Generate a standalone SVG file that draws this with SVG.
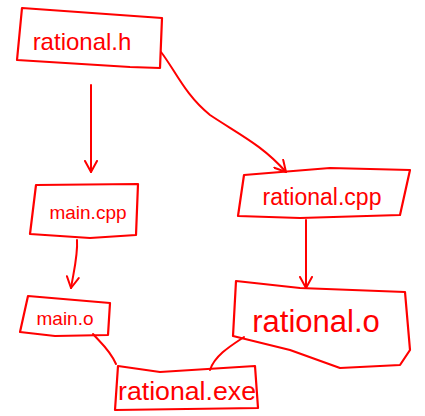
<svg xmlns="http://www.w3.org/2000/svg" width="425" height="416" viewBox="0 0 425 416">
<defs>
<style>
.box{fill:none;stroke:#ff0000;stroke-width:2.2;stroke-linejoin:round;stroke-linecap:round}
.ln{fill:none;stroke:#ff0000;stroke-width:2;stroke-linecap:round;stroke-linejoin:round}
.t{fill:#ff0000;font-family:"Liberation Sans",Arial,sans-serif;text-anchor:middle}
</style>
<marker id="ah" viewBox="0 0 14 14" refX="12" refY="7" markerWidth="14" markerHeight="14" markerUnits="userSpaceOnUse" orient="auto">
<path d="M1,1 L12,7 L1,13" fill="none" stroke="#ff0000" stroke-width="2" stroke-linecap="round" stroke-linejoin="round"/>
</marker>
</defs>
<rect width="425" height="416" fill="#ffffff"/>
<g id="connectors">
<path class="ln" d="M91,85 L91,172" marker-end="url(#ah)"/>
<path class="ln" d="M161,52 C175,70 185,95 210,115 C240,135 262,145 286,172" marker-end="url(#ah)"/>
<path class="ln" d="M77,240 C78,255 74,270 71,288" marker-end="url(#ah)"/>
<path class="ln" d="M306,220 L306,288" marker-end="url(#ah)"/>
<path class="ln" d="M93,334 C100,342 110,350 116,364"/>
<path class="ln" d="M244,337 C232,345 215,355 210,370"/>
</g>
<g id="n-rational-h">
<polygon class="box" points="22,8 162,18 160,68 130,67 17,60"/>
<text class="t" x="82" y="50" font-size="24">rational.h</text>
</g>
<g id="n-main-cpp">
<polygon class="box" points="36,185 138,184 136,235 90,238 30,234"/>
<text class="t" x="88" y="219" font-size="19">main.cpp</text>
</g>
<g id="n-main-o">
<polygon class="box" points="28,296 110,303 108,335 55,336 20,332"/>
<text class="t" x="65" y="325" font-size="19">main.o</text>
</g>
<g id="n-rational-cpp">
<polygon class="box" points="244,175 330,168 410,170 400,215 300,218 238,216"/>
<text class="t" x="322" y="205" font-size="23">rational.cpp</text>
</g>
<g id="n-rational-o">
<polygon class="box" points="236,281 300,288 405,292 410,350 400,365 340,368 290,350 233,336"/>
<text class="t" x="316" y="332" font-size="31">rational.o</text>
</g>
<g id="n-rational-exe">
<polygon class="box" points="118,366 160,372 255,366 258,408 115,410"/>
<text class="t" x="187" y="400" font-size="25" textLength="138" lengthAdjust="spacingAndGlyphs">rational.exe</text>
</g>
</svg>
